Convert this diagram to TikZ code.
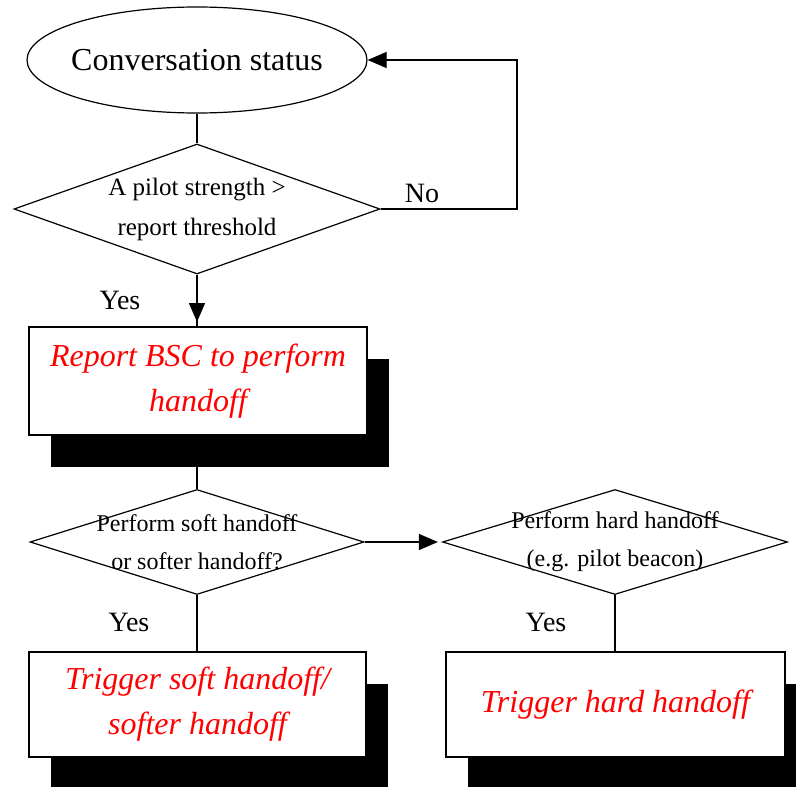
\documentclass[tikz,border=0pt]{standalone}
\usepackage{fontspec}
\setmainfont{Liberation Serif}
\usetikzlibrary{shapes.geometric,arrows.meta,shadows}
\begin{document}
\begin{tikzpicture}[x=1pt,y=-1pt,line width=1.2pt,
  every node/.style={inner sep=0pt},
  arr/.style={-{Triangle[length=19pt,width=16pt]}},
  decision/.style={diamond,draw},
  dtext/.style={align=center,font=\fontsize{25}{40}\selectfont},
  actbox/.style={rectangle,draw,fill=white,text=red,align=center,
    font=\fontsize{32}{45}\selectfont\itshape,
    general shadow={fill=black,shadow xshift=22pt,shadow yshift=-32pt}},
  lbl/.style={font=\fontsize{28}{32}\selectfont}]
\clip (0,0) rectangle (796,787);
\fill[white] (0,0) rectangle (796,787);
% nodes
\node[ellipse,draw,minimum width=340pt,minimum height=106pt] (cs) at (197,60) {};
\node[font=\fontsize{32}{36}\selectfont] (cst) at (cs) {Conversation status};
\node[decision,minimum width=366pt,minimum height=130pt] (d1) at (197,209) {};
\node[dtext] (t1) at (d1) {A pilot strength >\\report threshold};
\node[decision,minimum width=334pt,minimum height=105pt] (d2) at (197,542) {};
\node[dtext,font=\fontsize{24}{38}\selectfont] (t2) at (d2) {Perform soft handoff\\or softer handoff?};
\node[decision,minimum width=345pt,minimum height=105pt] (d3) at (615,542) {};
\node[dtext,font=\fontsize{24}{38}\selectfont] (t3) at (d3) {Perform hard handoff\\(e.g. pilot beacon)};
% connectors (drawn before boxes)
\coordinate (nc) at (517,209);
\draw (cs.south) -- (d1.north);
\draw (d1.south) -- (d1.south |- 0,328);
\draw[arr,shorten >=6pt] (d1.south) -- (d1.south |- 0,328);
\draw[arr] (d1.east) -- (nc) |- (cs.east);
\draw (d1.south |- 0,435) -- (d2.north);
\draw[arr,shorten >=4pt] (d2.east) -- (d3.west);
\draw (d2.south) -- (d2.south |- 0,652);
\draw (d3.south) -- (d3.south |- 0,652);
% action boxes
\node[actbox,minimum width=338pt,minimum height=108pt] (b1) at (198,381) {Report BSC to perform\\handoff};
\node[actbox,minimum width=337pt,minimum height=105pt] (b2) at (197.5,704.5) {Trigger soft handoff/\\softer handoff};
\node[actbox,minimum width=339pt,minimum height=105pt] (b3) at (615.5,704.5) {Trigger hard handoff};
% labels
\node[lbl] (no) at (422,193) {No};
\node[lbl] (y1) at (120,300) {Yes};
\node[lbl] (y2) at (129,622) {Yes};
\node[lbl] (y3) at (546,622) {Yes};
\end{tikzpicture}
\end{document}
